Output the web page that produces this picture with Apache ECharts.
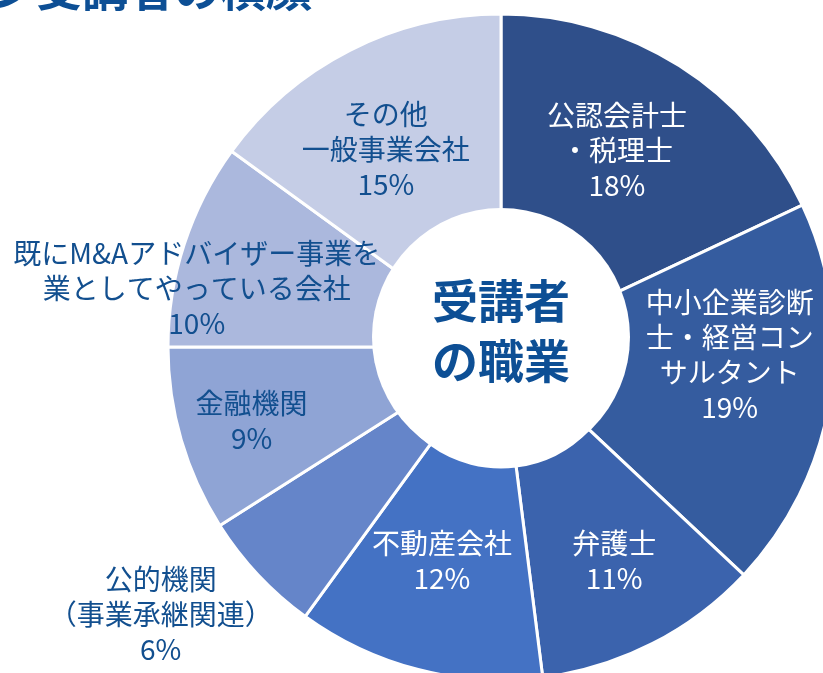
<!DOCTYPE html>
<html>
<head>
<meta charset="utf-8">
<script src="https://cdn.jsdelivr.net/npm/echarts@6/dist/echarts.min.js"></script>
<style>
  html, body { margin: 0; padding: 0; background: #fff; }
  #app { width: 823px; height: 673px; }
</style>
</head>
<body>
<div id="app"></div>
<script>
const app = document.getElementById("app");
const myChart = echarts.init(app, null, { renderer: "canvas" });

// 職業カテゴリ（12時から時計回り）
const categories = [
  "公認会計士\n・税理士",
  "中小企業診断\n士・経営コン\nサルタント",
  "弁護士",
  "不動産会社",
  "公的機関\n（事業承継関連）",
  "金融機関",
  "既にM&Aアドバイザー事業を\n業としてやっている会社",
  "その他\n一般事業会社",
];
const values = [18, 19, 11, 12, 6, 9, 10, 15];

const colors = ["#2f4f8a", "#355c9f", "#3b63ad", "#4472c4", "#6585c9", "#8fa4d5", "#abb8dd", "#c5cde6"];
const labelColors = ["#fff", "#fff", "#fff", "#fff", "#124f8f", "#124f8f", "#124f8f", "#124f8f"];
// ラベル位置の微調整
const labelShift = [[-7, -3], [2, -28], [9, 9], [-2, -8], [-173, 110], [-29, 10], [-86, 12], [-11, 7]];

const pieData = categories.map((name, i) => ({
  name: name,
  value: values[i],
  itemStyle: { color: colors[i] },
  label: { color: labelColors[i] },
}));

const font = "'Noto Sans CJK JP', 'Noto Sans', sans-serif";

const option = {
  backgroundColor: "#fff",
  animation: false,
  graphic: [
    {
      type: "text",
      left: -10,
      top: -34,
      z: 10,
      style: {
        text: "ン受講者の横顔",
        font: "bold 46px " + font,
        fill: "#0d4f95",
      },
    },
    {
      type: "circle",
      shape: { cx: 501, cy: 337, r: 129 },
      style: { fill: "#fff" },
      z: 10,
    },
    {
      type: "text",
      x: 501,
      y: 331,
      z: 11,
      style: {
        text: "受講者\nの職業",
        font: "bold 46px " + font,
        lineHeight: 60,
        fill: "#0d4f95",
        align: "center",
        verticalAlign: "middle",
      },
    },
  ],
  series: [
    {
      type: "pie",
      center: [501, 347],
      radius: [120, 333],
      startAngle: 90,
      clockwise: true,
      avoidLabelOverlap: false,
      silent: true,
      itemStyle: {
        borderColor: "#fff",
        borderWidth: 3,
      },
      label: {
        show: true,
        position: "inside",
        formatter: "{b}\n{c}%",
        fontFamily: font,
        fontSize: 28,
        lineHeight: 35,
        align: "center",
      },
      labelLine: { show: false },
      labelLayout: function (params) {
        const s = labelShift[params.dataIndex];
        return { dx: s[0], dy: s[1] };
      },
      data: pieData,
    },
  ],
};
myChart.setOption(option);
</script>
</body>
</html>
